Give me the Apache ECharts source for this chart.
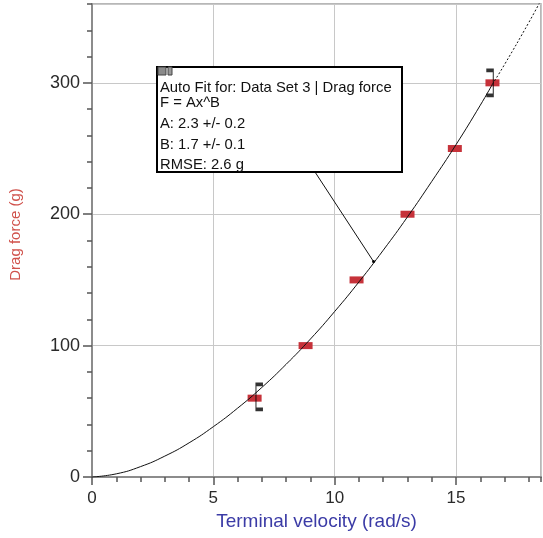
<!DOCTYPE html>
<html>
<head>
<meta charset="utf-8">
<script src="https://cdn.jsdelivr.net/npm/echarts@6/dist/echarts.min.js"></script>
<style>
  html, body { margin: 0; padding: 0; background: #fff; }
  #main { width: 543px; height: 538px; }
</style>
</head>
<body>
<div id="main"></div>
<script>
// measured points (terminal velocity rad/s, drag force g)
var velocity = [6.7, 8.8, 10.9, 13.0, 14.95, 16.5];
var force = [60, 100, 150, 200, 250, 300];

// fitted curve, solid part then dotted extension
var fitX = [0, 1, 2, 3, 4, 5, 6, 7, 8, 9, 10, 11, 12, 13, 14, 15, 16, 16.5];
var fitY = [0, 2.4, 7.9, 15.9, 26, 38.3, 52.4, 68.2, 85.8, 105, 126, 148.5, 172.6, 198, 225, 253, 283, 299];
var extX = [16.5, 17, 18, 18.5];
var extY = [299, 314, 346, 363];

// fit range brackets
var bracketX = [6.9, 16.39];
var bracketY = [61, 300];

var boxLines = [
  'Auto Fit for: Data Set 3 | Drag force',
  'F = Ax^B',
  'A: 2.3 +/- 0.2',
  'B: 1.7 +/- 0.1',
  'RMSE: 2.6 g'
];

function pairs(xs, ys) {
  return xs.map(function (x, i) { return [x, ys[i]]; });
}

var font = 'Arial, "Liberation Sans", sans-serif';
var myChart = echarts.init(document.getElementById('main'));

var option = {
  animation: false,
  grid: {
    left: 92, right: 2, top: 4, bottom: 61,
    show: true, borderColor: '#a0a0a0', borderWidth: 1.5,
    outerBoundsMode: 'none'
  },
  xAxis: [{
    type: 'value', min: 0, max: 18.5, interval: 5, position: 'bottom',
    name: 'Terminal velocity (rad/s)', nameLocation: 'middle', nameGap: 35,
    nameTextStyle: { color: '#3b3ba6', fontSize: 19, fontFamily: font },
    axisLine: { show: true, onZero: false, lineStyle: { color: '#8c8c8c', width: 2 } },
    axisTick: { show: true, length: 8, lineStyle: { color: '#555', width: 1.5 } },
    axisLabel: { color: '#2a2a2a', fontSize: 17, fontFamily: font, margin: 13, showMaxLabel: false },
    splitLine: { show: true, lineStyle: { color: '#c8c8c8', width: 1 } }
  }, {
    type: 'value', min: 0, max: 18.5, interval: 1, position: 'bottom', offset: 0,
    axisLine: { show: false, onZero: false },
    axisTick: { show: true, length: 5, lineStyle: { color: '#555', width: 1.5 } },
    axisLabel: { show: false },
    splitLine: { show: false }
  }],
  yAxis: [{
    type: 'value', min: 0, max: 360, interval: 100, position: 'left',
    name: 'Drag force (g)', nameLocation: 'middle', nameGap: 69,
    nameTextStyle: { color: '#d0524c', fontSize: 15, fontFamily: font, padding: [0, 0, 0, 12] },
    axisLine: { show: true, onZero: false, lineStyle: { color: '#8c8c8c', width: 2 } },
    axisTick: { show: true, length: 9, lineStyle: { color: '#555', width: 1.5 } },
    axisLabel: { color: '#2a2a2a', fontSize: 18, fontFamily: font, margin: 12, showMaxLabel: false },
    splitLine: { show: true, lineStyle: { color: '#c8c8c8', width: 1 } }
  }, {
    type: 'value', min: 0, max: 360, interval: 20, position: 'left', offset: 0,
    axisLine: { show: false, onZero: false },
    axisTick: { show: true, length: 5, lineStyle: { color: '#555', width: 1.5 } },
    axisLabel: { show: false },
    splitLine: { show: false }
  }],
  series: [{
    name: 'fit', type: 'line', showSymbol: false, smooth: true,
    lineStyle: { color: '#111', width: 1 },
    data: pairs(fitX, fitY), z: 3
  }, {
    name: 'fit ext', type: 'line', showSymbol: false, smooth: true,
    lineStyle: { color: '#111', width: 1, type: [2, 2] },
    data: pairs(extX, extY), z: 3
  }, {
    name: 'Drag force', type: 'scatter', symbol: 'rect', symbolSize: [14, 7],
    itemStyle: { color: '#c6323a', opacity: 1 },
    data: pairs(velocity, force), z: 2
  }, {
    name: 'brackets', type: 'scatter', symbolSize: [7, 25],
    itemStyle: { color: 'none', borderColor: '#000', borderWidth: 2 },
    data: [
      { value: [bracketX[0], bracketY[0]], symbol: 'path://M7,0 L0,0 L0,25 L7,25' },
      { value: [bracketX[1], bracketY[1]], symbol: 'path://M0,0 L7,0 L7,25 L0,25' }
    ],
    z: 4
  }]
};

myChart.setOption(option);

// annotation box with leader line to the curve
var tip = myChart.convertToPixel({ gridIndex: 0 }, [11.6, 164]);
var lineYs = [88, 103, 124, 145, 165];
var graphics = [{
  type: 'line', z: 10,
  shape: { x1: 315, y1: 172, x2: tip[0], y2: tip[1] },
  style: { stroke: '#111', lineWidth: 1 }
}, {
  type: 'circle', z: 10,
  shape: { cx: tip[0], cy: tip[1], r: 1.5 },
  style: { fill: '#000' }
}, {
  type: 'rect', z: 11,
  shape: { x: 157, y: 67, width: 245, height: 105 },
  style: { fill: '#fff', stroke: '#000', lineWidth: 2 }
}, {
  type: 'rect', z: 12,
  shape: { x: 158, y: 67, width: 8, height: 8 },
  style: { fill: '#8a8a8a', stroke: '#444', lineWidth: 1 }
}, {
  type: 'rect', z: 12,
  shape: { x: 168, y: 67, width: 4, height: 8 },
  style: { fill: '#9a9a9a', stroke: '#444', lineWidth: 1 }
}];
boxLines.forEach(function (t, i) {
  graphics.push({
    type: 'text', z: 12, x: 160, y: lineYs[i],
    style: {
      text: t, fill: '#111', font: '14.8px ' + font,
      textVerticalAlign: 'middle', verticalAlign: 'middle'
    }
  });
});
myChart.setOption({ graphic: graphics });
</script>
</body>
</html>
